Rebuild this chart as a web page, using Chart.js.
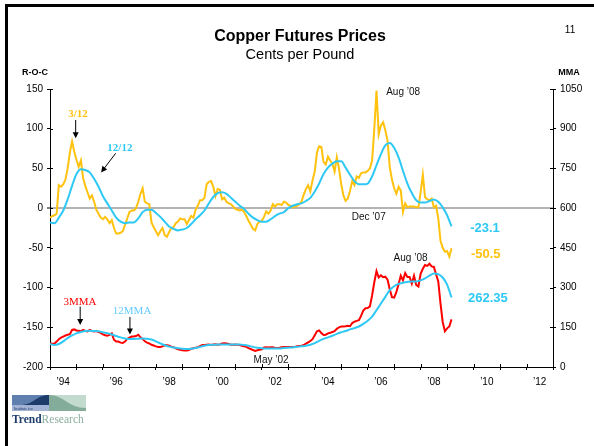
<!DOCTYPE html>
<html>
<head>
<meta charset="utf-8">
<script src="https://cdn.jsdelivr.net/npm/chart.js@4.4.1/dist/chart.umd.min.js"></script>
<style>
  body { margin: 0; background: #fff; }
  #wrap { position: relative; width: 594px; height: 446px; overflow: hidden; background: #fff; }
  #chart { position: absolute; left: 0; top: 0; }
  .frame { position: absolute; left: 5px; top: 4px; width: 700px; height: 600px;
           border-left: 3px solid #000; border-top: 3px solid #000; pointer-events: none; }
  .logo { position: absolute; left: 12px; top: 395px; }
</style>
</head>
<body>
<div id="wrap">
  <canvas id="chart" width="594" height="446"></canvas>
  <div class="frame"></div>
  <svg class="logo" width="76" height="32" viewBox="0 0 76 32">
    <rect x="0" y="0" width="37" height="10" fill="#5f7fae"/>
    <path d="M8,10 C22,10 24,0 37,0 L37,10 Z" fill="#1d3c6a"/>
    <rect x="0" y="10" width="37" height="6" fill="#a3b3d6"/>
    <text x="2" y="15" font-family="Liberation Serif" font-size="4" fill="#1d3c6a">Institute for</text>
    <rect x="37" y="0" width="37" height="16" fill="#c3dace"/>
    <path d="M37,0 C52,0 56,13 74,13 L74,16 L37,16 Z" fill="#84ac9a"/>
    <text x="0" y="28" font-family="Liberation Serif" font-size="11.5">
      <tspan font-weight="bold" fill="#1d3c6a">Trend</tspan><tspan fill="#8cae9f">Research</tspan>
    </text>
  </svg>
</div>
<script>
// monthly series start Jan 1994, 12-month averages sampled every 2 months
const startYear = 1994;

// 3/12 rate of change (left axis), monthly
const roc3 = [
  -12, -10, -9, -7, 29, 27, 30, 36, 50, 70,
  84, 71, 61, 52, 60, 38, 28, 20, 12, 16,
  8, -2, -7, -12, -14, -11, -14, -19, -15, -25,
  -32, -32, -31, -29, -21, -13, -5, -3, -3, 0,
  8, 18, 25, 8, 6, 5, -18, -24, -29, -34,
  -29, -25, -34, -36, -30, -25, -24, -19, -17, -13,
  -14, -14, -20, -15, -10, -12, -2, 3, 10, 10,
  13, 30, 33, 34, 27, 15, 24, 23, 11, 13,
  8, 6, 5, 2, -1, -2, -3, -2, -5, -10,
  -16, -21, -26, -28, -20, -17, -16, -11, -4, -7,
  -3, 5, 2, 5, 5, 4, 8, 7, 4, 3,
  1, 2, 3, 5, 8, 17, 24, 29, 21, 35,
  46, 70, 78, 77, 58, 55, 65, 60, 56, 46,
  64, 50, 30, 16, 9, 12, 22, 34, 29, 40,
  38, 44, 45, 45, 47, 50, 60, 100, 148, 93,
  104, 108, 98, 85, 52, 36, 25, 18, 27, 22,
  -5, 6, 1, 2, 2, 2, 1, 1, 20, 42,
  14, 11, 10, 12, 1, 3, -13, -41, -50, -55,
  -54, -61, -50.5
];

// 12/12 rate of change (left axis), every 2 months
const roc12 = [
  -18, -19, -12, -3, 11, 28, 43, 49, 48, 45,
  37, 27, 15, 6, -3, -12, -17, -19, -18, -18,
  -13, -5, -2, -2, -6, -11, -17, -23, -26, -28,
  -27, -25, -20, -14, -9, -3, 6, 14, 19, 20,
  18, 13, 8, 3, -1, -7, -12, -15, -17, -17,
  -14, -10, -7, -5, 0, 3, 5, 6, 9, 13,
  21, 31, 43, 51, 56, 59, 59, 51, 42, 34,
  30, 30, 31, 40, 54, 68, 79, 82, 76, 64,
  47, 31, 19, 10, 7, 7, 9, 11, 8, 1,
  -9, -23.1
];

// 3-month moving average price (right axis), monthly
const mma3 = [
  90, 88, 88, 96, 105, 111, 115, 119, 122, 124,
  140, 142, 138, 137, 134, 140, 136, 134, 140, 136,
  134, 136, 132, 129, 123, 120, 118, 121, 127, 103,
  96, 96, 92, 91, 96, 106, 111, 115, 115, 117,
  122, 112, 106, 97, 92, 89, 84, 81, 78, 76,
  76, 78, 83, 82, 80, 77, 75, 70, 67, 65,
  63, 62, 62, 64, 69, 71, 73, 75, 79, 83,
  83, 84, 85, 83, 85, 86, 84, 85, 89, 90,
  89, 87, 84, 84, 85, 84, 83, 80, 78, 76,
  71, 68, 64, 61, 63, 65, 67, 74, 75, 74,
  75, 75, 72, 72, 73, 75, 76, 76, 76, 76,
  76, 76, 78, 79, 80, 83, 88, 93, 98, 105,
  120, 135, 138, 128, 121, 122, 127, 129, 132, 135,
  144, 150, 153, 153, 154, 156, 154, 166, 171, 174,
  177, 193, 213, 222, 223, 229, 270, 320, 362, 338,
  346, 339, 341, 330, 294, 264, 262, 283, 313, 345,
  327, 355, 340, 340, 315, 345, 310, 304, 352, 371,
  385, 382, 390, 380, 378, 350, 323, 240, 170, 135,
  146, 153, 180
];

// 12-month moving average price (right axis), every 2 months
const mma12 = [
  87, 83, 87, 97, 109, 119, 127, 132, 136, 137,
  136, 135, 131, 128, 123, 117, 112, 108, 106, 106,
  107, 108, 107, 104, 97, 89, 82, 77, 74, 71,
  69, 68, 69, 72, 76, 80, 83, 84, 85, 85,
  85, 85, 85, 85, 83, 80, 76, 73, 71, 70,
  70, 70, 70, 72, 73, 74, 76, 78, 80, 84,
  90, 99, 106, 112, 118, 125, 131, 136, 142, 147,
  153, 163, 175, 190, 215, 240, 265, 290, 305, 314,
  318, 321, 323, 323, 327, 335, 345, 353, 351, 338,
  311, 262.35
];

const rocTicks = [-200, -150, -100, -50, 0, 50, 100, 150];
const mmaTicks = [0, 150, 300, 450, 600, 750, 900, 1050];

const GOLD = '#ffc20e';
const CYAN = '#2ec8f4';
const RED = '#ff0000';
const SANS = 'Arial, "Liberation Sans", sans-serif';
const SERIF = '"Times New Roman", "Liberation Serif", serif';

const monthly = arr => arr.map((v, i) => ({ x: startYear + i / 12, y: v }));
const biMonthly = arr => arr.map((v, i) => ({ x: startYear + i / 6, y: v }));

// text notes and arrows, placed in axis units (year, left-axis value)
const notes = [
  { text: '3/12', x: 1995.06, y: 118, color: GOLD, font: 'bold 11px ' + SERIF },
  { text: '12/12', x: 1996.64, y: 75, color: CYAN, font: 'bold 11px ' + SERIF },
  { text: 'Aug \u201908', x: 2007.34, y: 146, color: '#111', font: '10px ' + SANS },
  { text: 'Dec \u201907', x: 2006.04, y: -12, color: '#111', font: '10px ' + SANS },
  { text: '-23.1', x: 2009.87, y: -25, color: CYAN, font: 'bold 13px ' + SANS, align: 'left' },
  { text: '-50.5', x: 2009.9, y: -58.5, color: GOLD, font: 'bold 13px ' + SANS, align: 'left' },
  { text: 'Aug \u201908', x: 2007.62, y: -62.5, color: '#111', font: '10px ' + SANS },
  { text: '262.35', x: 2009.79, y: -114, color: CYAN, font: 'bold 13px ' + SANS, align: 'left' },
  { text: '3MMA', x: 1995.13, y: -118.5, color: RED, font: '11px ' + SERIF },
  { text: '12MMA', x: 1997.1, y: -130, color: '#66ccff', font: '11px ' + SERIF },
  { text: 'May \u201902', x: 2002.35, y: -191.5, color: '#111', font: '10px ' + SANS }
];
const arrows = [
  { x1: 1994.97, y1: 111, x2: 1994.97, y2: 88 },
  { x1: 1996.48, y1: 69, x2: 1995.93, y2: 45 },
  { x1: 1995.14, y1: -124, x2: 1995.14, y2: -147 },
  { x1: 1997.02, y1: -137, x2: 1997.02, y2: -159 }
];

const decorPlugin = {
  id: 'decor',
  afterDraw(chart) {
    const c = chart.ctx;
    const sx = chart.scales.x, sy = chart.scales.y, sy1 = chart.scales.y1;
    const area = chart.chartArea;
    c.save();
    c.textBaseline = 'middle';

    // small tick marks running inside the plot
    c.strokeStyle = '#000';
    c.lineWidth = 1;
    c.beginPath();
    rocTicks.forEach(v => {
      const p = Math.round(sy.getPixelForValue(v)) + 0.5;
      c.moveTo(area.left, p); c.lineTo(area.left + 3, p);
    });
    mmaTicks.forEach(v => {
      const p = Math.round(sy1.getPixelForValue(v)) + 0.5;
      c.moveTo(area.right - 3, p); c.lineTo(area.right, p);
    });
    for (let yr = 1995; yr < 2013; yr++) {
      const p = Math.round(sx.getPixelForValue(yr)) + 0.5;
      c.moveTo(p, area.bottom - 3); c.lineTo(p, area.bottom);
    }
    c.stroke();

    // titles
    c.fillStyle = '#000';
    c.textAlign = 'center';
    c.font = 'bold 16px ' + SANS;
    c.fillText('Copper Futures Prices', 300, 37);
    c.font = '14.5px ' + SANS;
    c.fillText('Cents per Pound', 300, 55);
    c.font = '10px ' + SANS;
    c.fillText('11', 570, 30);
    c.font = 'bold 9px ' + SANS;
    c.fillText('R-O-C', 35, 73);
    c.fillText('MMA', 569, 73);

    notes.forEach(n => {
      c.font = n.font;
      c.fillStyle = n.color;
      c.textAlign = n.align || 'center';
      c.fillText(n.text, sx.getPixelForValue(n.x), sy.getPixelForValue(n.y));
    });

    c.strokeStyle = '#000';
    c.fillStyle = '#000';
    c.lineWidth = 1;
    arrows.forEach(a => {
      const x1 = sx.getPixelForValue(a.x1), y1 = sy.getPixelForValue(a.y1);
      const x2 = sx.getPixelForValue(a.x2), y2 = sy.getPixelForValue(a.y2);
      const ang = Math.atan2(y2 - y1, x2 - x1);
      c.beginPath();
      c.moveTo(x1, y1);
      c.lineTo(x2 - 4 * Math.cos(ang), y2 - 4 * Math.sin(ang));
      c.stroke();
      c.beginPath();
      c.moveTo(x2, y2);
      c.lineTo(x2 - 6 * Math.cos(ang) + 3 * Math.sin(ang), y2 - 6 * Math.sin(ang) - 3 * Math.cos(ang));
      c.lineTo(x2 - 6 * Math.cos(ang) - 3 * Math.sin(ang), y2 - 6 * Math.sin(ang) + 3 * Math.cos(ang));
      c.closePath();
      c.fill();
    });
    c.restore();
  }
};

Chart.defaults.font.family = SANS;
Chart.defaults.color = '#000';

const line = (label, data, color, axis, smooth) => ({
  label,
  data,
  yAxisID: axis,
  borderColor: color,
  borderWidth: 2,
  pointRadius: 0,
  fill: false,
  tension: 0,
  cubicInterpolationMode: smooth ? 'monotone' : 'default'
});

new Chart(document.getElementById('chart').getContext('2d'), {
  type: 'line',
  data: {
    datasets: [
      line('12/12', biMonthly(roc12), CYAN, 'y', true),
      line('12MMA', biMonthly(mma12), CYAN, 'y1', true),
      line('3/12', monthly(roc3), GOLD, 'y', false),
      line('3MMA', monthly(mma3), RED, 'y1', false)
    ]
  },
  options: {
    responsive: false,
    animation: false,
    events: [],
    layout: { padding: { top: 89, left: 0, right: 0, bottom: 0 } },
    plugins: { legend: { display: false }, tooltip: { enabled: false } },
    scales: {
      x: {
        type: 'linear',
        min: 1994,
        max: 2013,
        afterBuildTicks: scale => {
          const t = [];
          for (let v = 1994; v <= 2013; v += 0.5) t.push({ value: v });
          scale.ticks = t;
        },
        afterFit: scale => { scale.height = 79; },
        ticks: {
          autoSkip: false,
          maxRotation: 0,
          padding: 6,
          font: { size: 10 },
          callback: v => (v % 2 === 0.5 ? '\u2019' + String(Math.floor(v)).slice(2) : '')
        },
        grid: {
          drawOnChartArea: false,
          tickLength: 3,
          color: ctx => (ctx.tick && Number.isInteger(ctx.tick.value) ? '#000' : 'rgba(0,0,0,0)')
        },
        border: { display: true, color: '#000', width: 1 }
      },
      y: {
        position: 'left',
        min: -200,
        max: 150,
        afterBuildTicks: scale => { scale.ticks = rocTicks.map(v => ({ value: v })); },
        afterFit: scale => { scale.width = 50; },
        ticks: { padding: 4, font: { size: 10 }, callback: v => String(v) },
        grid: {
          tickLength: 3,
          color: ctx => (ctx.tick && ctx.tick.value === 0 ? '#b4b4b4' : 'rgba(0,0,0,0)'),
          lineWidth: ctx => (ctx.tick && ctx.tick.value === 0 ? 2 : 1),
          tickColor: '#000',
          tickWidth: 1
        },
        border: { display: true, color: '#000', width: 1 }
      },
      y1: {
        position: 'right',
        min: 0,
        max: 1050,
        afterBuildTicks: scale => { scale.ticks = mmaTicks.map(v => ({ value: v })); },
        afterFit: scale => { scale.width = 41; },
        ticks: { padding: 4, font: { size: 10 }, callback: v => String(v) },
        grid: { drawOnChartArea: false, tickLength: 3, color: '#000' },
        border: { display: true, color: '#000', width: 1 }
      }
    }
  },
  plugins: [decorPlugin]
});
</script>
</body>
</html>
